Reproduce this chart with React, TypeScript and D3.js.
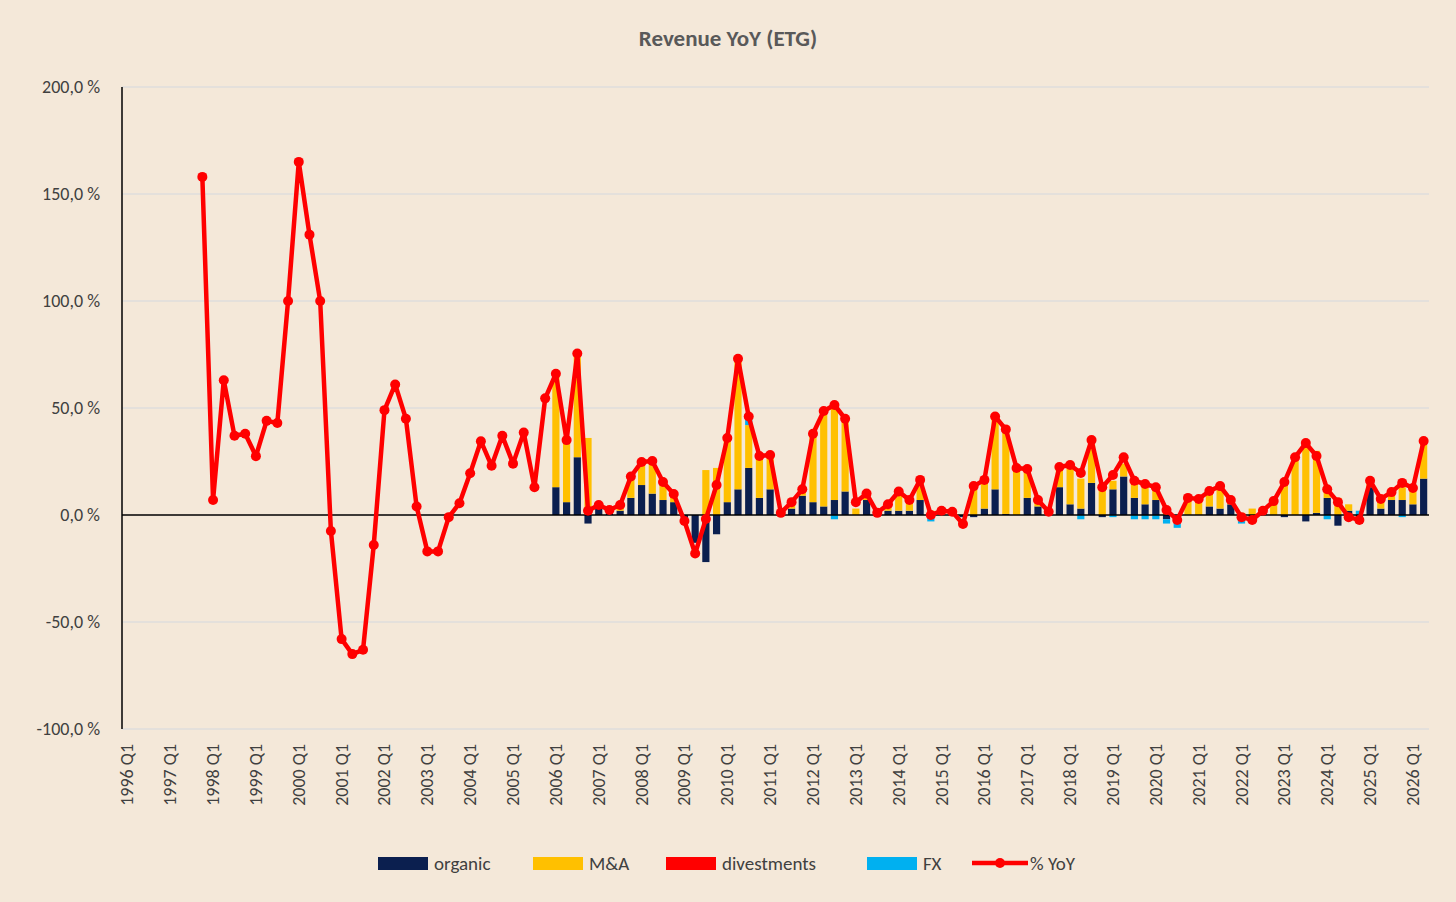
import React from "react";
import * as d3 from "d3";

const years = d3.range(1996, 2027);
const quarters: string[] = [];
years.forEach((y) => [1, 2, 3, 4].forEach((q) => quarters.push(`${y} Q${q}`)));
const categories = quarters.slice(0, 122);

const yoyStart = 7;
const yoy = [158, 7, 63, 37, 38, 27.5, 44, 43, 100, 165, 131, 100, -7.5, -58, -65, -63, -14, 49, 61, 45, 4, -17, -17, -1, 5.5, 19.5, 34.5, 23, 37, 24, 38.5, 13, 54.5, 66, 35, 75.5, 2, 4.7, 2.3, 4.7, 18, 24.8, 25.2, 15.4, 9.8, -2.8, -18, -1.9, 14, 36, 73, 46, 27.6, 28, 1, 6, 12, 38, 48.6, 51.4, 45, 6, 10, 1, 5, 11, 7, 16.4, 0, 2, 1.5, -4.2, 13.5, 16.4, 46, 40, 22, 21.5, 7, 1.5, 22.4, 23.4, 19.6, 35, 13, 18.7, 27, 16, 14.5, 13, 2.3, -2.3, 8, 7.5, 11.2, 13.5, 7, -1, -2.3, 2, 6.5, 15.4, 27, 33.6, 27.6, 12, 6, -1, -2.3, 16, 7.5, 10.7, 15, 12.6, 34.6];

const barStart = 40;
const organic = [13, 6, 27, -4, 3, 1, 2, 8, 14, 10, 7, 6, -3, -13, -22, -9, 6, 12, 22, 8, 12, 0, 3, 9, 6, 4, 7, 11, 0, 7, 0, 2, 2, 2, 7, 0, 0, 1, -1, -1, 3, 12, 0.5, 0, 8, 4, 0, 13, 5, 3, 15, -1, 12, 18, 8, 5, 7, -2, -3, 0, 0, 4, 3, 5, -3, -1, 1, 0, -1, 0, -3, 1, 8, -5, 2, -4, 13, 3, 7, 7, 5, 17];
const mna = [53, 29, 48, 36, 2, 1, 2, 10, 11, 15, 8, 4, 0, 0, 21, 22, 30, 61, 20, 19, 16, 1, 3, 2, 32, 44, 44, 34, 3, 2, 1, 3, 8, 4, 8, 2, 1, 1, 0, 12, 14, 33, 38, 22, 13, 3, 1, 9, 17, 14, 18, 13, 4, 6, 7, 8, 5, 2, 0, 7, 7, 7, 10, 3, 1, 3, 2, 6, 14, 27, 33, 29, 5, 8, 3, 0, 3, 4, 5, 6, 6, 16];
const divestments = new Array(82).fill(0);
const fx = [0, 0, 0, 0, 0, 0, 0, 0, 0, 0, 0, 0, 0, 0, 0, 0, 0, 0, 3, 0, 0, 0, 0, 0, 0, 0, -2, 0, 0, 0, 0, 0, 0, 0, 0, -3, 0, 0, 0, 3, 0, 0, 0, 0, 0, 0, 0, 0, 0, -2, 0, 0, -1, 0, -2, -2, -2, -2, -3, 0, 0, 0, 0, 0, -1, 0, 0, 0, 0, 0, 0, 0, -2, 0, -2, 2, 0, 0, 0, -1, 0, 0];

const yTicks = [200, 150, 100, 50, 0, -50, -100];
const seriesNames = ["organic", "M&A", "divestments", "FX"];
const seriesColors = ["#0b1f4f", "#ffc000", "#ff0000", "#00b0f0"];

const W = 1456, H = 902;
const left = 122, right = 1429, top = 87, bottom = 729;
const fmt = (v: number) => v.toFixed(1).replace(".", ",") + " %";

export default function App() {
  const x = d3.scaleBand<string>().domain(categories).range([left, right]).paddingInner(0.33).paddingOuter(0.165);
  const xc = (c: string) => (x(c) as number) + x.bandwidth() / 2;
  const y = d3.scaleLinear().domain([-100, 200]).range([bottom, top]);

  const rows = organic.map((_, i) => ({
    cat: categories[barStart + i],
    organic: organic[i], "M&A": mna[i], divestments: divestments[i], FX: fx[i],
  }));
  const stack = d3.stack<any>().keys(seriesNames).offset(d3.stackOffsetDiverging);
  const layers = stack(rows);

  const linePts = yoy.map((v, i) => ({ c: categories[yoyStart + i], v }));
  const line = d3.line<{ c: string; v: number }>().x((d) => xc(d.c)).y((d) => y(d.v));

  const font = "Carlito, Calibri, 'Open Sans', 'Liberation Sans', sans-serif";
  const legend = [
    { t: "organic", c: seriesColors[0], x: 378 },
    { t: "M&A", c: seriesColors[1], x: 533 },
    { t: "divestments", c: seriesColors[2], x: 666 },
    { t: "FX", c: seriesColors[3], x: 867 },
  ];

  return (
    <svg width={W} height={H} style={{ position: "absolute", left: 0, top: 0, background: "#f4e8d9" }} fontFamily={font}>
      <rect width={W} height={H} fill="#f4e8d9" />
      <text x={728} y={46} textAnchor="middle" fontSize={23} fontWeight="bold" fill="#595959">Revenue YoY (ETG)</text>
      {yTicks.map((t) => (
        <g key={t}>
          {t !== 0 && <line x1={left} x2={right} y1={y(t)} y2={y(t)} stroke="#d4d8de" strokeWidth={1} />}
          <text x={100} y={y(t) + 6} textAnchor="end" fontSize={18} fill="#404040">{fmt(t)}</text>
        </g>
      ))}
      {layers.map((layer, li) => (
        <g key={li} fill={seriesColors[li]}>
          {layer.map((d: any, i: number) => {
            const h = Math.abs(y(d[0]) - y(d[1]));
            if (h < 0.01) return null;
            return <rect key={i} x={x(d.data.cat)} width={x.bandwidth()} y={Math.min(y(d[0]), y(d[1]))} height={h} />;
          })}
        </g>
      ))}
      <line x1={left} x2={left} y1={top} y2={bottom} stroke="#000" strokeWidth={1.5} />
      <line x1={left} x2={right} y1={y(0)} y2={y(0)} stroke="#000" strokeWidth={1.5} />
      <path d={line(linePts) || ""} fill="none" stroke="#ff0000" strokeWidth={4.5} strokeLinejoin="round" />
      {linePts.map((d, i) => (
        <circle key={i} cx={xc(d.c)} cy={y(d.v)} r={5} fill="#ff0000" />
      ))}
      {categories.map((c, i) => i % 4 === 0 && (
        <text key={c} transform={`translate(${xc(c) + 6},${744}) rotate(-90)`} textAnchor="end" fontSize={18} fill="#404040">{c}</text>
      ))}
      {legend.map((l) => (
        <g key={l.t}>
          <rect x={l.x} y={857} width={50} height={13} fill={l.c} />
          <text x={l.x + 56} y={870} fontSize={19} fill="#404040">{l.t}</text>
        </g>
      ))}
      <line x1={972} x2={1028} y1={863} y2={863} stroke="#ff0000" strokeWidth={4.5} />
      <circle cx={1000} cy={863} r={5} fill="#ff0000" />
      <text x={1030} y={870} fontSize={19} fill="#404040">% YoY</text>
    </svg>
  );
}
